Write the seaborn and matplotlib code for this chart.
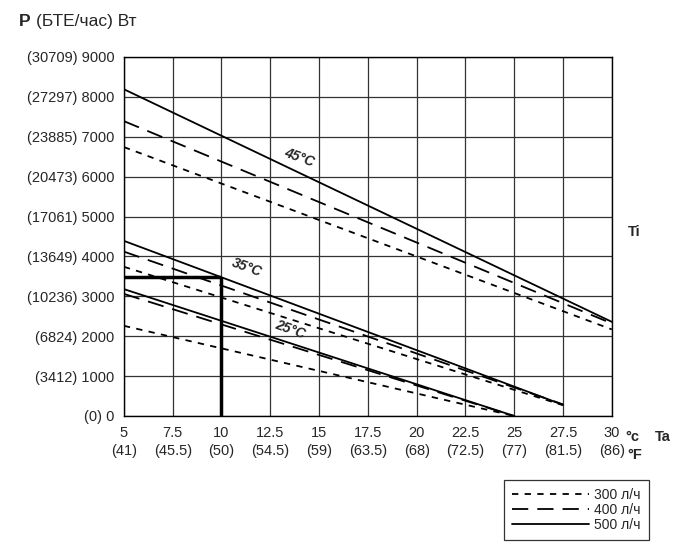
import matplotlib.pyplot as plt
import seaborn as sns
import pandas as pd

# data (Ta in °C, P in W)
flows = ["300 л/ч", "400 л/ч", "500 л/ч"]
ti_labels = ["45°C", "35°C", "25°C"]
ta_45 = [5, 30]
p45_300 = [6740, 2170]
p45_400 = [7390, 2320]
p45_500 = [8190, 2360]
ta_35 = [5, 27.5]
p35_300 = [3740, 270]
p35_400 = [4120, 290]
p35_500 = [4390, 280]
ta_25 = [5, 25]
p25_300 = [2260, 0]
p25_400 = [3060, 0]
p25_500 = [3180, 0]
marker_ta = 10
marker_p = 3476

x_ticks = [5, 7.5, 10, 12.5, 15, 17.5, 20, 22.5, 25, 27.5, 30]
x_f = ["41", "45.5", "50", "54.5", "59", "63.5", "68", "72.5", "77", "81.5", "86"]
y_ticks = [0, 1000, 2000, 3000, 4000, 5000, 6000, 7000, 8000, 9000]
y_btu = ["0", "3412", "6824", "10236", "13649", "17061", "20473", "23885", "27297", "30709"]

rows = []
for temp, ta, series in [("45", ta_45, [p45_300, p45_400, p45_500]),
                         ("35", ta_35, [p35_300, p35_400, p35_500]),
                         ("25", ta_25, [p25_300, p25_400, p25_500])]:
    for flow, vals in zip(flows, series):
        for t, p in zip(ta, vals):
            rows.append({"temp": temp, "flow": flow, "ta": t, "p": p})
df = pd.DataFrame(rows)

sns.set_style("white")
plt.rcParams['font.family'] = ['Liberation Sans', 'DejaVu Sans']

fig = plt.figure(figsize=(7, 5.58), dpi=100)
ax = fig.add_axes([0.177, 0.2545, 0.697, 0.6435])

styles = {"300 л/ч": (0, (3.5, 3.5)), "400 л/ч": (0, (9, 5)), "500 л/ч": "-"}
for (temp, flow), g in df.groupby(["temp", "flow"]):
    sns.lineplot(data=g, x="ta", y="p", ax=ax, color="black", lw=1.3,
                 linestyle=styles[flow], label=flow if temp == "45" else None)

# thick marker lines at Ta=10
ax.plot([5, marker_ta], [marker_p, marker_p], color="black", lw=2.5, solid_capstyle="butt")
ax.plot([marker_ta, marker_ta], [0, marker_p], color="black", lw=2.5, solid_capstyle="butt")

ax.set_xlim(5, 30)
ax.set_ylim(0, 9000)
ax.set_xticks(x_ticks)
ax.set_yticks(y_ticks)
ax.set_xticklabels([f"{t:g}\n({f})" for t, f in zip(x_ticks, x_f)], fontsize=10.5, linespacing=1.35)
ax.set_yticklabels([f"({b}) {v}" for b, v in zip(y_btu, y_ticks)], fontsize=10.5)
ax.tick_params(length=0, pad=7)
ax.grid(True, color="#333333", lw=0.9)
for s in ax.spines.values():
    s.set_color("black")
    s.set_linewidth(1)
ax.set_xlabel("")
ax.set_ylabel("")

# curve labels
ax.text(14.0, 6480, ti_labels[0], rotation=-20, fontsize=10, fontweight="bold", style="italic", ha="center", va="center")
ax.text(11.3, 3720, ti_labels[1], rotation=-20, fontsize=10, fontweight="bold", style="italic", ha="center", va="center")
ax.text(13.5, 2160, ti_labels[2], rotation=-20, fontsize=10, fontweight="bold", style="italic", ha="center", va="center")

# title and axis texts
fig.text(0.027, 0.962, "P", fontsize=12.5, fontweight="bold", va="center")
fig.text(0.052, 0.962, "(БТЕ/час) Вт", fontsize=12.5, va="center")
fig.text(0.897, 0.584, "Ti", fontsize=10.5, fontweight="bold", va="center")
fig.text(0.893, 0.216, "°c", fontsize=10.5, fontweight="bold", va="center")
fig.text(0.935, 0.216, "Ta", fontsize=10.5, fontweight="bold", va="center")
fig.text(0.896, 0.184, "°F", fontsize=10.5, fontweight="bold", va="center")

handles, labels = ax.get_legend_handles_labels()
leg = ax.legend(handles, labels, loc="upper left", bbox_to_anchor=(0.72, 0.14),
                bbox_transform=fig.transFigure, frameon=True, fancybox=False,
                fontsize=10, handlelength=5.5, handletextpad=0.4, labelspacing=0.05,
                borderpad=0.6, borderaxespad=0)
leg.get_frame().set_edgecolor("black")
leg.get_frame().set_linewidth(0.9)

fig.savefig("out.png", dpi=100)
